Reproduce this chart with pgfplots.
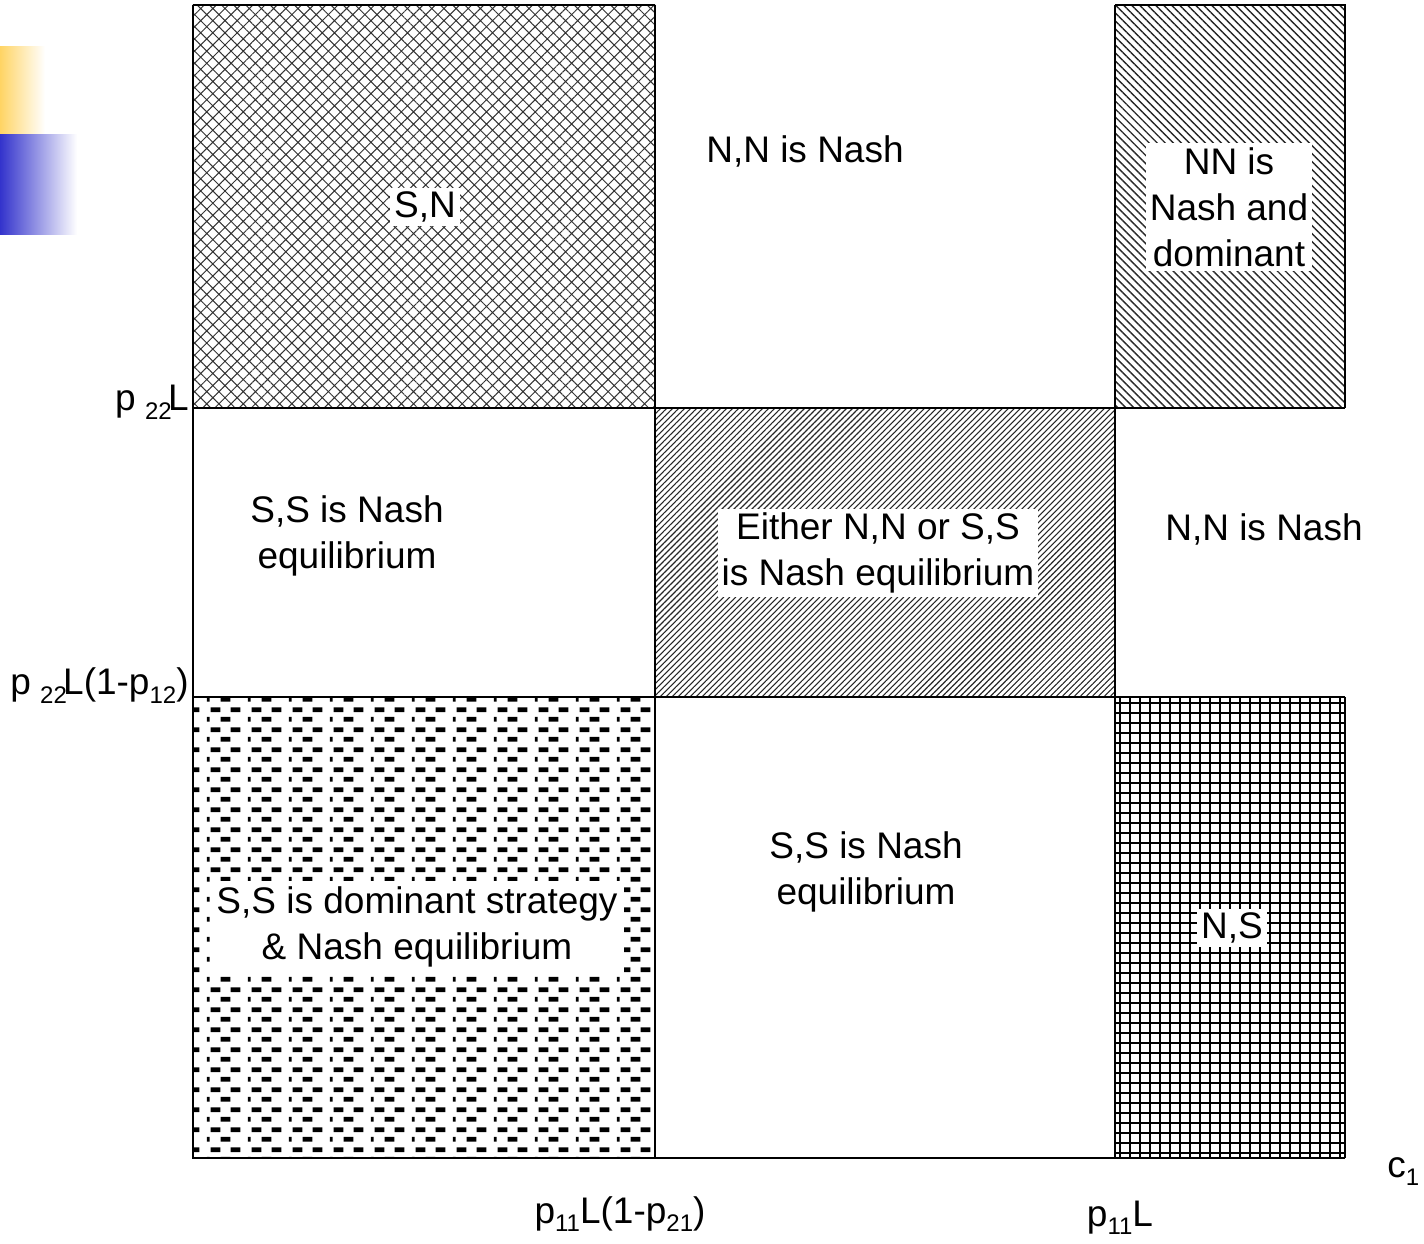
\documentclass[border=0pt]{standalone}
\usepackage{pgfplots}
\pgfplotsset{compat=1.18}
\usepackage{fontspec}
\setmainfont{Liberation Sans}
\usetikzlibrary{patterns,patterns.meta}

\pgfdeclarepatternformonly{ssdash}{\pgfqpoint{0pt}{0pt}}{\pgfqpoint{20.5pt}{10pt}}{\pgfqpoint{20.5pt}{10pt}}{%
  \pgfpathrectangle{\pgfqpoint{2.85pt}{6.25pt}}{\pgfqpoint{5pt}{2.5pt}}%
  \pgfpathrectangle{\pgfqpoint{13.1pt}{6.25pt}}{\pgfqpoint{5pt}{2.5pt}}%
  \pgfpathrectangle{\pgfqpoint{0.9pt}{1.25pt}}{\pgfqpoint{1.5pt}{2.5pt}}%
  \pgfpathrectangle{\pgfqpoint{8pt}{1.25pt}}{\pgfqpoint{5pt}{2.5pt}}%
  \pgfusepath{fill}}

\newcommand{\lab}{\fontsize{18.5}{23}\selectfont}
\newcommand{\sub}[1]{\raisebox{-0.45ex}{\fontsize{12}{12}\selectfont #1}}

\begin{document}
\begin{tikzpicture}
\begin{axis}[scale only axis, width=576pt, height=576.5pt,
  xmin=0, xmax=1152, ymin=0, ymax=1153, hide axis, clip=false,
  anchor=south west, at={(0,0)},
  bline/.style={black, line width=1.4pt, mark=none, solid}]
% regions
\addplot[draw=none, mark=none, pattern={Hatch[angle=45,distance=4.3pt,line width=0.5pt]}, pattern color=black!80]
  coordinates {(0,750) (462,750) (462,1153) (0,1153)} -- cycle;
\addplot[draw=none, mark=none, pattern={Lines[angle=-45,distance=2.83pt,line width=0.7pt]}, pattern color=black!85]
  coordinates {(922,750) (1152,750) (1152,1153) (922,1153)} -- cycle;
\addplot[draw=none, mark=none, pattern={Lines[angle=45,distance=2.12pt,line width=0.55pt]}, pattern color=black!85]
  coordinates {(462,461) (922,461) (922,750) (462,750)} -- cycle;
\addplot[draw=none, mark=none, pattern={Hatch[angle=0,distance=5pt,line width=1.4pt]}, pattern color=black]
  coordinates {(922,0) (1152,0) (1152,461) (922,461)} -- cycle;
\addplot[draw=none, mark=none, pattern=ssdash, pattern color=black]
  coordinates {(0,0) (462,0) (462,461) (0,461)} -- cycle;
% lines
\addplot[bline] coordinates {(0,1153) (0,0) (1152,0)};
\addplot[bline] coordinates {(0,750) (1152,750)};
\addplot[bline] coordinates {(0,461) (1152,461)};
\addplot[bline] coordinates {(462,0) (462,1153)};
\addplot[bline] coordinates {(922,0) (922,1153)};
\addplot[bline] coordinates {(0,1153) (462,1153)};
\addplot[bline] coordinates {(922,1153) (1152,1153) (1152,750)};
\addplot[bline] coordinates {(1152,461) (1152,0)};
% decoration
\fill[left color={rgb,255:red,255;green,212;blue,100}, right color=white] (axis cs:-193,1023) rectangle (axis cs:-148,1111);
\fill[left color={rgb,255:red,51;green,51;blue,204}, right color=white] (axis cs:-193,923) rectangle (axis cs:-116,1023);
% region texts
\node[fill=white, inner sep=2pt, font=\lab] at (axis cs:232,951) {S,N};
\node[font=\lab] at (axis cs:612,1007) {N,N is Nash};
\node[fill=white, inner sep=2pt, align=center, font=\lab] at (axis cs:1036,951) {NN is\\Nash and\\dominant};
\node[align=center, font=\lab] at (axis cs:154,622) {S,S is Nash\\equilibrium};
\node[fill=white, inner sep=2pt, align=center, font=\lab] at (axis cs:685,605) {Either N,N or S,S\\is Nash equilibrium};
\node[font=\lab] at (axis cs:1071,629) {N,N is Nash};
\node[align=center, font=\lab] at (axis cs:673,286) {S,S is Nash\\equilibrium};
\node[fill=white, inner sep=3pt, align=center, font=\lab] at (axis cs:224,231) {S,S is dominant strategy\\\& Nash equilibrium};
\node[fill=white, inner sep=2pt, font=\lab] at (axis cs:1039,230) {N,S};
% axis labels
\node[anchor=base east, inner sep=0pt, font=\lab] at (axis cs:-4,747) {p\hspace{0.25em}\sub{22}\hspace{-0.1em}L};
\node[anchor=base east, inner sep=0pt, font=\lab] at (axis cs:-4,463) {p\hspace{0.25em}\sub{22}\hspace{-0.1em}L(1-p\sub{12})};
\node[anchor=base, inner sep=0pt, font=\lab] at (axis cs:427,-65) {p\sub{11}L(1-p\sub{21})};
\node[anchor=base, inner sep=0pt, font=\lab] at (axis cs:927,-68) {p\sub{11}L};
\node[anchor=base west, inner sep=0pt, font=\lab] at (axis cs:1194,-19) {c\sub{1}};
\end{axis}
\pgfresetboundingbox
\path[use as bounding box] (-96.5pt,-42.5pt) rectangle (615.5pt,579pt);
\end{tikzpicture}
\end{document}
